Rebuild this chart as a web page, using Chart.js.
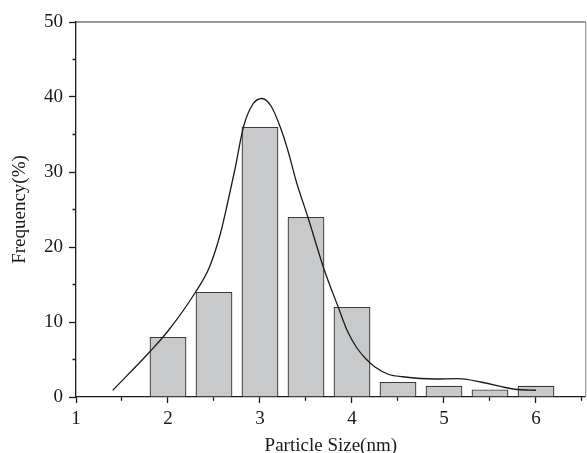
<!DOCTYPE html>
<html>
<head>
<meta charset="utf-8">
<script src="https://cdn.jsdelivr.net/npm/chart.js@4/dist/chart.umd.min.js"></script>
<style>
  html, body { margin: 0; padding: 0; background: #fff; }
  #wrap { width: 587px; height: 453px; }
</style>
</head>
<body>
<div id="wrap"><canvas id="grafico" width="587" height="453"></canvas></div>
<script>
// Histograma: tamaño de partícula (nm) y frecuencia (%)
const tamanos = [2, 2.5, 3, 3.5, 4, 4.5, 5, 5.5, 6];
const frecuencias = [8, 14, 36, 24, 12, 2, 1.5, 1, 1.5];

// Curva de ajuste
const curvaX = [1.4, 1.8, 2.0, 2.3, 2.45, 2.57, 2.65, 2.73, 2.82, 2.92, 3.02, 3.12, 3.22, 3.3, 3.4, 3.52, 3.7, 3.85, 3.95, 4.05, 4.15, 4.25, 4.4, 4.55, 4.9, 5.15, 5.4, 5.65, 5.8, 6.0];
const curvaY = [0.9, 6.0, 8.8, 14.0, 17.3, 21.8, 26.0, 30.5, 36.0, 39.0, 39.8, 38.8, 36.0, 33.0, 28.5, 24.0, 16.9, 12.0, 8.8, 6.6, 5.1, 4.0, 3.0, 2.7, 2.4, 2.45, 2.0, 1.3, 1.0, 0.9];

// Marcas de los ejes
const ticksX = [1, 1.5, 2, 2.5, 3, 3.5, 4, 4.5, 5, 5.5, 6, 6.5];
const ticksY = [0, 5, 10, 15, 20, 25, 30, 35, 40, 45, 50];

const fuente = { family: "'Liberation Serif', 'DejaVu Serif', serif", size: 19 };
const negro = '#1a1a1a';

// Marco superior y derecho
const marco = {
    id: 'marco',
    afterDraw(chart) {
        const { ctx, chartArea: a } = chart;
        ctx.save();
        ctx.lineWidth = 1.2;
        ctx.strokeStyle = '#333';
        ctx.beginPath();
        ctx.moveTo(a.left, a.top);
        ctx.lineTo(a.right, a.top);
        ctx.stroke();
        ctx.strokeStyle = '#999';
        ctx.beginPath();
        ctx.moveTo(a.right, a.top);
        ctx.lineTo(a.right, a.bottom);
        ctx.stroke();
        ctx.restore();
    }
};

const esMenorX = c => c.tick && !Number.isInteger(c.tick.value);
const esMenorY = c => c.tick && c.tick.value % 10 !== 0;

new Chart(document.getElementById('grafico').getContext('2d'), {
    type: 'bar',
    data: {
        datasets: [{
            type: 'line',
            label: 'Ajuste',
            data: curvaX.map((x, i) => ({ x: x, y: curvaY[i] })),
            borderColor: negro,
            borderWidth: 1.3,
            pointRadius: 0,
            fill: false,
            cubicInterpolationMode: 'monotone',
            order: 0
        }, {
            type: 'bar',
            label: 'Frecuencia',
            data: tamanos.map((x, i) => ({ x: x, y: frecuencias[i] })),
            backgroundColor: '#c8c9cb',
            borderColor: '#3a3a3a',
            borderWidth: 1.3,
            barPercentage: 1,
            categoryPercentage: 0.8,
            order: 1
        }]
    },
    options: {
        responsive: false,
        animation: false,
        layout: { padding: { left: 0, right: 1, top: 22, bottom: 0 } },
        plugins: { legend: { display: false }, tooltip: { enabled: false } },
        scales: {
            x: {
                type: 'linear',
                min: 1,
                max: 6.54,
                offset: false,
                afterBuildTicks: s => { s.ticks = ticksX.map(v => ({ value: v })); },
                afterFit: s => { s.height = 56; },
                border: { display: true, color: negro, width: 1.3 },
                grid: {
                    offset: false,
                    drawOnChartArea: false,
                    drawTicks: true,
                    tickLength: 6,
                    tickColor: negro,
                    tickWidth: 1.3,
                    tickBorderDash: c => esMenorX(c) ? [3.5, 100] : []
                },
                ticks: {
                    color: negro,
                    font: fuente,
                    padding: 5,
                    maxRotation: 0,
                    autoSkip: false,
                    callback: v => Number.isInteger(v) ? String(v) : ''
                },
                title: {
                    display: true,
                    text: 'Particle Size(nm)',
                    color: negro,
                    font: fuente,
                    padding: { top: 0, bottom: -4 }
                }
            },
            y: {
                type: 'linear',
                min: 0,
                max: 50,
                afterBuildTicks: s => { s.ticks = ticksY.map(v => ({ value: v })); },
                afterFit: s => { s.width = 76; },
                border: { display: true, color: negro, width: 1.3 },
                grid: {
                    drawOnChartArea: false,
                    drawTicks: true,
                    tickLength: 7,
                    tickColor: negro,
                    tickWidth: 1.3,
                    tickBorderDash: c => esMenorY(c) ? [0, 3.5, 4, 100] : []
                },
                ticks: {
                    color: negro,
                    font: fuente,
                    padding: 6,
                    autoSkip: false,
                    callback: v => v % 10 === 0 ? String(v) : ''
                },
                title: {
                    display: true,
                    text: 'Frequency(%)',
                    color: negro,
                    font: fuente,
                    padding: { top: 8.5, bottom: 0 }
                }
            }
        }
    },
    plugins: [marco]
});
</script>
</body>
</html>
